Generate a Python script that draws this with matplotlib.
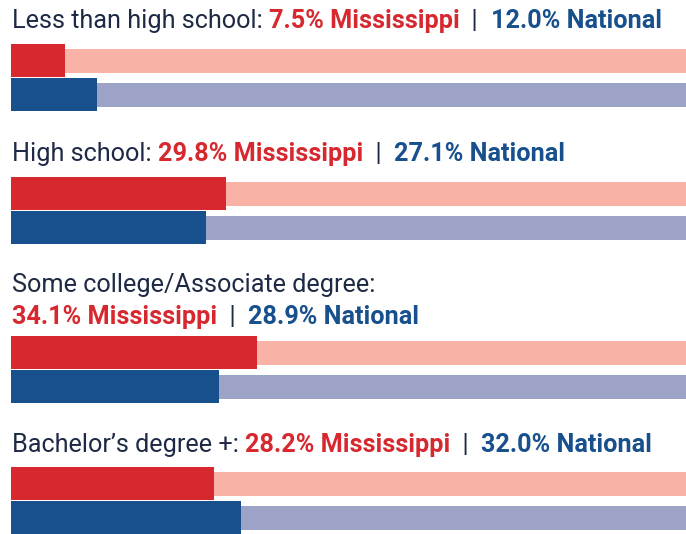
import matplotlib.pyplot as plt

# Data
categories = ["Less than high school", "High school",
              "Some college/Associate degree", "Bachelor\u2019s degree +"]
mississippi = [7.5, 29.8, 34.1, 28.2]
national = [12.0, 27.1, 28.9, 32.0]

# Colors
RED = "#D7282F"
RED_LIGHT = "#F8B2A6"
BLUE = "#17508D"
BLUE_LIGHT = "#9DA3C6"
NAVY = "#1E2A45"

plt.rcParams["font.family"] = ["Roboto", "DejaVu Sans"]

fig = plt.figure(figsize=(6.86, 5.34), dpi=100)
# axes start at the left edge of the bars; y in pixel rows from the top
ax = fig.add_axes([11 / 686, 0, 675 / 686, 1])
ax.set_xlim(0, 93.75)
ax.set_ylim(534, 0)
ax.axis("off")

FS = 18.2

# layout: baseline of the title line and top of the red bar for each group
title_y = [28, 161, 292, 452]
wrap = [False, False, True, False]
bar_top = [44, 177, 336, 467]
BAR_H = 33
TRACK_H = 24


def title_line(x, y, parts):
    t = ax.text(x, y, parts[0][0], color=parts[0][1], fontsize=FS,
                fontweight=parts[0][2], va="baseline", ha="left")
    for s, c, w in parts[1:]:
        t = ax.annotate(s, xy=(1, 0), xycoords=t, xytext=(0, 0),
                        textcoords="offset points", color=c, fontsize=FS,
                        fontweight=w, va="bottom", ha="left")
    return t


for i, cat in enumerate(categories):
    ms_txt = f"{mississippi[i]:.1f}% Mississippi"
    nat_txt = f"{national[i]:.1f}% National"
    values = [(ms_txt, RED, "bold"), ("  |  ", NAVY, "normal"),
              (nat_txt, BLUE, "bold")]
    if wrap[i]:
        title_line(0.1, title_y[i], [(cat + ":", NAVY, "normal")])
        title_line(0.1, title_y[i] + 32, values)
    else:
        title_line(0.1, title_y[i], [(cat + ": ", NAVY, "normal")] + values)

    top = bar_top[i]
    red_c = top + BAR_H / 2
    blue_c = top + BAR_H + BAR_H / 2 + 1
    # light tracks
    ax.barh(red_c, 100, height=TRACK_H, left=0, color=RED_LIGHT)
    ax.barh(blue_c, 100, height=TRACK_H, left=0, color=BLUE_LIGHT)
    # values
    ax.barh(red_c, mississippi[i], height=BAR_H, left=0, color=RED)
    ax.barh(blue_c, national[i], height=BAR_H, left=0, color=BLUE)

fig.savefig("out.png", dpi=100)
